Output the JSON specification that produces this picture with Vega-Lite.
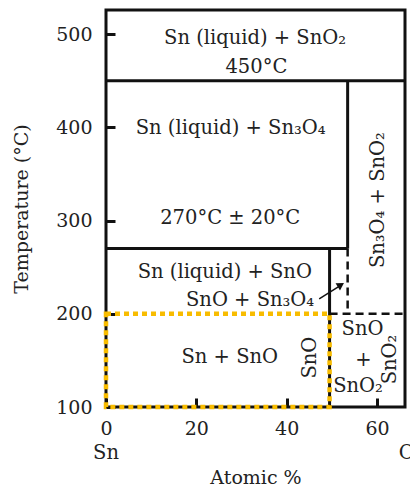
{
  "$schema": "https://vega.github.io/schema/vega-lite/v6.json",
  "width": 299,
  "height": 397,
  "autosize": {"type": "none"},
  "padding": {"left": 106, "top": 10, "right": 5, "bottom": 86},
  "background": "white",
  "config": {
    "view": {"stroke": "#111", "strokeWidth": 3},
    "font": "DejaVu Serif",
    "axis": {
      "domain": false,
      "grid": false,
      "labelFont": "DejaVu Serif",
      "titleFont": "DejaVu Serif",
      "labelColor": "#222",
      "titleColor": "#222",
      "labelFontSize": 19,
      "titleFontSize": 19,
      "titleFontWeight": "normal",
      "tickColor": "#111",
      "tickWidth": 3,
      "tickSize": -9,
      "labelFlush": false
    }
  },
  "datasets": {
    "boundaries": [
      {"x": 0, "x2": 66.2, "y": 450, "y2": 450},
      {"x": 0, "x2": 53.5, "y": 270, "y2": 270},
      {"x": 53.5, "x2": 53.5, "y": 450, "y2": 270},
      {"x": 49.5, "x2": 49.5, "y": 270, "y2": 100}
    ],
    "metastable": [
      {"x": 53.5, "x2": 53.5, "y": 270, "y2": 200},
      {"x": 49.5, "x2": 66.2, "y": 200, "y2": 200}
    ],
    "highlight": [
      {"x": 0, "x2": 49.5, "y": 100, "y2": 200}
    ],
    "pointer": [
      {"x": 47.2, "y": 216, "x2": 51.6, "y2": 229.5}
    ],
    "pointerHead": [
      {"x": 52.0, "y": 231}
    ],
    "phases": [
      {"x": 33.0, "y": 496, "label": "Sn (liquid) + SnO₂"},
      {"x": 33.3, "y": 465, "label": "450°C"},
      {"x": 27.6, "y": 399, "label": "Sn (liquid) + Sn₃O₄"},
      {"x": 27.5, "y": 303, "label": "270°C ± 20°C"},
      {"x": 26.3, "y": 245, "label": "Sn (liquid) + SnO"},
      {"x": 31.9, "y": 215, "label": "SnO + Sn₃O₄"},
      {"x": 27.4, "y": 154, "label": "Sn + SnO"},
      {"x": 56.8, "y": 184, "label": "SnO"},
      {"x": 57.0, "y": 150, "label": "+"},
      {"x": 55.8, "y": 122, "label": "SnO₂"},
      {"x": 0, "y": 51, "label": "Sn"},
      {"x": 66.6, "y": 51, "label": "O"}
    ],
    "phasesVertical": [
      {"x": 45.2, "y": 153, "label": "SnO"},
      {"x": 62.9, "y": 151, "label": "SnO₂"},
      {"x": 60.2, "y": 322, "label": "Sn₃O₄ + SnO₂"}
    ]
  },
  "encoding": {
    "x": {
      "field": "x",
      "type": "quantitative",
      "scale": {"domain": [0, 66.2], "nice": false, "zero": false},
      "axis": {"values": [0, 20, 40, 60], "title": "Atomic %", "labelPadding": 21, "titlePadding": 30}
    },
    "y": {
      "field": "y",
      "type": "quantitative",
      "scale": {"domain": [100, 526], "nice": false, "zero": false},
      "axis": {"values": [100, 200, 300, 400, 500], "title": "Temperature (°C)", "labelPadding": 23, "titlePadding": 24}
    }
  },
  "layer": [
    {
      "data": {"name": "boundaries"},
      "mark": {"type": "rule", "color": "#111", "strokeWidth": 3},
      "encoding": {"x2": {"field": "x2"}, "y2": {"field": "y2"}}
    },
    {
      "data": {"name": "metastable"},
      "mark": {"type": "rule", "color": "#111", "strokeWidth": 2.5, "strokeDash": [8, 5]},
      "encoding": {"x2": {"field": "x2"}, "y2": {"field": "y2"}}
    },
    {
      "data": {"name": "highlight"},
      "mark": {"type": "rect", "fill": "transparent", "stroke": "#F8BC00", "strokeWidth": 4.5, "strokeDash": [5, 4]},
      "encoding": {"x2": {"field": "x2"}, "y2": {"field": "y2"}}
    },
    {
      "data": {"name": "pointer"},
      "mark": {"type": "rule", "color": "#111", "strokeWidth": 1.5},
      "encoding": {"x2": {"field": "x2"}, "y2": {"field": "y2"}}
    },
    {
      "data": {"name": "pointerHead"},
      "mark": {"type": "point", "shape": "triangle-up", "angle": 58, "size": 70, "filled": true, "color": "#111", "opacity": 1}
    },
    {
      "data": {"name": "phases"},
      "mark": {"type": "text", "font": "DejaVu Serif", "fontSize": 19.5, "color": "#222", "align": "center", "baseline": "middle"},
      "encoding": {"text": {"field": "label"}}
    },
    {
      "data": {"name": "phasesVertical"},
      "mark": {"type": "text", "font": "DejaVu Serif", "fontSize": 19.5, "color": "#222", "align": "center", "baseline": "middle", "angle": 270},
      "encoding": {"text": {"field": "label"}}
    }
  ]
}
